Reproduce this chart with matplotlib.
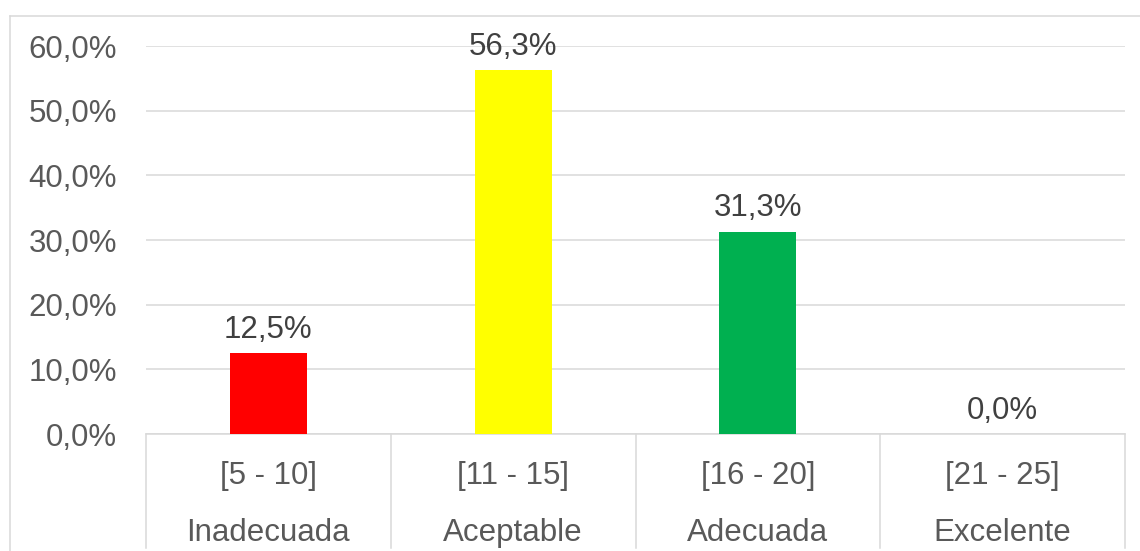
import matplotlib
matplotlib.use("Agg")
import matplotlib.pyplot as plt
from matplotlib.lines import Line2D
import matplotlib.transforms as mtransforms

plt.rcParams['font.family'] = ['Liberation Sans', 'DejaVu Sans']

# datos
rangos = ['[5 - 10]', '[11 - 15]', '[16 - 20]', '[21 - 25]']
niveles = ['Inadecuada', 'Aceptable', 'Adecuada', 'Excelente']
valores = [12.5, 56.3, 31.3, 0.0]
colores = ['#ff0000', '#ffff00', '#00b050', '#00b050']
yticks = [0, 10, 20, 30, 40, 50, 60]

grid_c = '#d9d9d9'
txt_c = '#595959'
lbl_c = '#404040'
fs = 22.5

fig = plt.figure(figsize=(11.4, 5.51), dpi=100)
ax = fig.add_axes([146/1140, 117/551, 979/1140, 388/551])

x = list(range(len(valores)))
ax.bar(x, valores, width=0.314, color=colores, zorder=3)
ax.set_xlim(-0.5, len(valores) - 0.5)
ax.set_ylim(0, 60)

ax.set_yticks(yticks)
ax.set_yticklabels([f'{t:.1f}%'.replace('.', ',') for t in yticks], fontsize=fs, color=txt_c)
ax.tick_params(axis='y', length=0, pad=21)
ax.set_xticks([])
ax.grid(axis='y', color=grid_c, linewidth=1.1, zorder=0)
for s in ['top', 'right', 'left']:
    ax.spines[s].set_visible(False)
ax.spines['bottom'].set_color(grid_c)
ax.spines['bottom'].set_linewidth(1.1)

# etiquetas de datos
for xi, v in zip(x, valores):
    ax.annotate(f'{v:.1f}%'.replace('.', ','), (xi, v), xytext=(0, 6),
                textcoords='offset points', ha='center', va='bottom',
                fontsize=fs, color=lbl_c)

# categorias de dos niveles
for xi, r, n in zip(x, rangos, niveles):
    ax.annotate(r, (xi, 0), xycoords=('data', 'axes fraction'), xytext=(0, -30),
                textcoords='offset points', ha='center', va='center',
                fontsize=fs, color=txt_c, annotation_clip=False)
    ax.annotate(n, (xi, 0), xycoords=('data', 'axes fraction'), xytext=(0, -71),
                textcoords='offset points', ha='center', va='center',
                fontsize=fs, color=txt_c, annotation_clip=False)

# separadores verticales
trans = mtransforms.blended_transform_factory(ax.transData, ax.transAxes)
for b in [i - 0.5 for i in range(len(valores) + 1)]:
    ax.plot([b, b], [0, -114/388], transform=trans, color=grid_c,
            linewidth=1.1, clip_on=False)

# borde del grafico
fig.add_artist(Line2D([10/1140, 1], [1 - 16/551, 1 - 16/551], color=grid_c, linewidth=1.1))
fig.add_artist(Line2D([10/1140, 10/1140], [0, 1 - 16/551], color=grid_c, linewidth=1.1))

fig.savefig('out.png', dpi=100)
